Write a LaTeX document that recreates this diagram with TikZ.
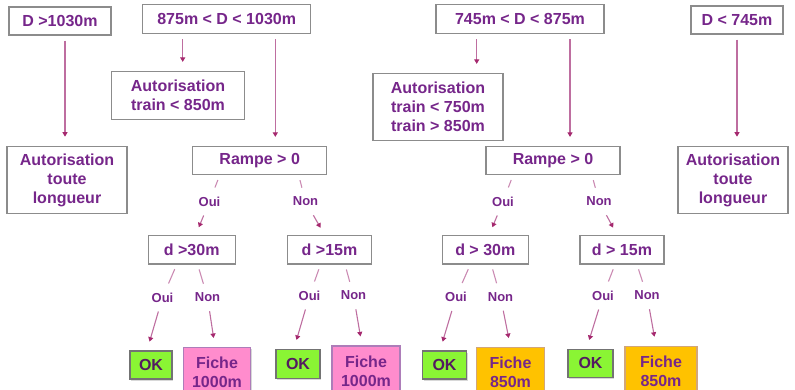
\documentclass[tikz,border=0pt]{standalone}
\usepackage{fontspec}
\setmainfont{Liberation Sans}
\usetikzlibrary{arrows.meta, positioning, shadows}

\definecolor{txtpurple}{RGB}{118,38,138}
\definecolor{boxgray}{RGB}{140,140,140}
\definecolor{arrowpink}{RGB}{190,110,160}
\definecolor{tippink}{RGB}{165,40,110}
\definecolor{okgreen}{RGB}{138,245,52}
\definecolor{fichepink}{RGB}{255,140,205}
\definecolor{fichegold}{RGB}{255,194,0}

\begin{document}
\begin{tikzpicture}[
    x=1pt, y=1pt,
    box/.style={rectangle, draw=boxgray, line width=1.4pt, fill=white,
                inner sep=0pt, align=center, text=txtpurple,
                font=\bfseries\fontsize{16}{19}\selectfont},
    okbox/.style={box, draw=black!55, fill=okgreen, minimum height=28pt,
                  text=txtpurple!70!black,
                  drop shadow={shadow xshift=1pt, shadow yshift=-1.5pt, fill=black!30}},
    fiche/.style={box, minimum height=49pt,
                  drop shadow={shadow xshift=1pt, shadow yshift=-1.5pt, fill=black!30}},
    arrow/.style={-{Triangle[length=4.5pt, width=5pt, color=tippink]},
                  draw=arrowpink, line width=1.1pt, shorten >=9pt},
    link/.style={draw=arrowpink!80, line width=1.1pt, shorten <=5pt},
    lab/.style={font=\bfseries\fontsize{13}{15}\selectfont, text=txtpurple,
                inner sep=9pt},
]
\useasboundingbox (0,0) rectangle (795,-390);

% ---------- Top row: length classes ----------
\node[box, minimum width=102pt, minimum height=28pt] (d1030) at (60,-21)    {D >1030m};
\node[box, minimum width=168pt, minimum height=29pt] (d875)  at (226.7,-19.2) {875m < D < 1030m};
\node[box, minimum width=168pt, minimum height=29pt] (d745)  at (520,-19.2)   {745m < D < 875m};
\node[box, minimum width=92pt,  minimum height=28pt] (dmin)  at (737,-20)    {D < 745m};

% ---------- Second row ----------
\node[box, minimum width=120pt, minimum height=67pt, below=110pt of d1030, xshift=7pt]  (toutL)  {Autorisation\\toute\\longueur};
\node[box, minimum width=133pt, minimum height=48pt, below=36.5pt of d875, xshift=-48.7pt] (aut850) {Autorisation\\train < 850m};
\node[box, minimum width=134pt, minimum height=28pt, below=111.5pt of d875, xshift=33pt] (rampeL) {Rampe > 0};
\node[box, minimum width=130pt, minimum height=67pt, below=38.5pt of d745, xshift=-82pt]  (aut750) {Autorisation\\train < 750m\\train > 850m};
\node[box, minimum width=134pt, minimum height=28pt, below=111.5pt of d745, xshift=33pt] (rampeR) {Rampe > 0};
\node[box, minimum width=110pt, minimum height=67pt, below=111pt of dmin, xshift=-4pt]  (toutR)  {Autorisation\\toute\\longueur};

% ---------- Third row: distance tests ----------
\node[box, minimum width=87pt, minimum height=28.5pt, below=59.4pt of rampeL, xshift=-68pt]   (d30L) {d >30m};
\node[box, minimum width=84pt, minimum height=28.5pt, below=59.4pt of rampeL, xshift=69.8pt]  (d15L) {d >15m};
\node[box, minimum width=86pt, minimum height=28.5pt, below=59.4pt of rampeR, xshift=-67.7pt] (d30R) {d > 30m};
\node[box, minimum width=84pt, minimum height=28.5pt, below=59.4pt of rampeR, xshift=69pt]    (d15R) {d > 15m};

% ---------- Bottom row: results ----------
\node[okbox, minimum width=42pt, below=85.7pt of d30L, xshift=-40.7pt] (okA) {OK};
\node[fiche, fill=fichepink, draw=txtpurple!60, minimum width=67pt, below=82.3pt of d30L, xshift=25.3pt] (ficheA) {Fiche\\1000m};
\node[okbox, minimum width=44pt, minimum height=29pt, below=84pt of d15L, xshift=-31.5pt] (okB) {OK};
\node[fiche, fill=fichepink, draw=txtpurple!60, minimum width=68pt, minimum height=50pt, below=80.7pt of d15L, xshift=36.5pt] (ficheB) {Fiche\\1000m};
\node[okbox, minimum width=44pt, below=85.7pt of d30R, xshift=-40.8pt] (okC) {OK};
\node[fiche, fill=fichegold, draw=brown!70, minimum width=67.6pt, below=82.3pt of d30R, xshift=25.2pt] (ficheC) {Fiche\\850m};
\node[okbox, minimum width=45pt, below=84pt of d15R, xshift=-31.5pt] (okD) {OK};
\node[fiche, fill=fichegold, draw=brown!70, minimum width=72pt, minimum height=50pt, below=81pt of d15R, xshift=39pt] (ficheD) {Fiche\\850m};

% ---------- Oui / Non labels ----------
\node[lab] (ouiR1) at (209.5,-201.5) {Oui};
\node[lab] (nonR1) at (305.5,-201.5) {Non};
\node[lab] (ouiR2) at (503,-201.5)   {Oui};
\node[lab] (nonR2) at (599,-201.5)   {Non};
\node[lab] (ouiA) at (162.5,-297.5) {Oui};
\node[lab] (nonA) at (207.5,-297.5) {Non};
\node[lab] (ouiB) at (309.5,-295.5) {Oui};
\node[lab] (nonB) at (353.5,-295.5) {Non};
\node[lab] (ouiC) at (456,-297)     {Oui};
\node[lab] (nonC) at (500.5,-297)   {Non};
\node[lab] (ouiD) at (603,-295.5)   {Oui};
\node[lab] (nonD) at (647,-295.5)   {Non};

% ---------- Top arrows ----------
\draw[arrow, shorten <=5pt] ([xshift=5pt]d1030.south) -- ([xshift=-2pt]toutL.north);
\draw[arrow, shorten <=5pt] ([xshift=-44pt]d875.south) -- ([xshift=4.7pt]aut850.north);
\draw[arrow, shorten <=5pt] ([xshift=48.6pt]d875.south) -- ([xshift=15.6pt]rampeL.north);
\draw[arrow, shorten <=5pt] ([xshift=-43.3pt]d745.south) -- ([xshift=38.7pt]aut750.north);
\draw[arrow, shorten <=5pt] ([xshift=50pt]d745.south) -- ([xshift=17pt]rampeR.north);
\draw[arrow, shorten <=5pt] (dmin.south) -- ([xshift=4pt]toutR.north);

% ---------- Rampe -> d ----------
\draw[link] ([xshift=-40pt]rampeL.south) -- (ouiR1);
\draw[arrow, shorten >=8pt] (ouiR1) -- ([xshift=4pt]d30L.north);
\draw[link] ([xshift=39pt]rampeL.south) -- (nonR1);
\draw[arrow, shorten >=8pt] (nonR1) -- ([xshift=-5pt]d15L.north);
\draw[link] ([xshift=-40pt]rampeR.south) -- (ouiR2);
\draw[arrow, shorten >=8pt] (ouiR2) -- ([xshift=4pt]d30R.north);
\draw[link] ([xshift=39pt]rampeR.south) -- (nonR2);
\draw[arrow, shorten >=8pt] (nonR2) -- ([xshift=-5pt]d15R.north);

% ---------- d -> results ----------
\draw[link] ([xshift=-15pt]d30L.south) -- (ouiA);
\draw[arrow] (ouiA) -- ([xshift=-4pt]okA.north);
\draw[link] ([xshift=6pt]d30L.south) -- (nonA);
\draw[arrow] (nonA) -- ([xshift=-2pt]ficheA.north);
\draw[link] ([xshift=-9pt]d15L.south) -- (ouiB);
\draw[arrow] (ouiB) -- ([xshift=-4pt]okB.north);
\draw[link] ([xshift=15.5pt]d15L.south) -- (nonB);
\draw[arrow] (nonB) -- ([xshift=-4pt]ficheB.north);
\draw[link] ([xshift=-15pt]d30R.south) -- (ouiC);
\draw[arrow] (ouiC) -- ([xshift=-4.5pt]okC.north);
\draw[link] ([xshift=6pt]d30R.south) -- (nonC);
\draw[arrow] (nonC) -- (ficheC.north);
\draw[link] ([xshift=-7pt]d15R.south) -- (ouiD);
\draw[arrow] (ouiD) -- ([xshift=-4pt]okD.north);
\draw[link] ([xshift=15pt]d15R.south) -- (nonD);
\draw[arrow] (nonD) -- ([xshift=-5pt]ficheD.north);

\end{tikzpicture}
\end{document}
